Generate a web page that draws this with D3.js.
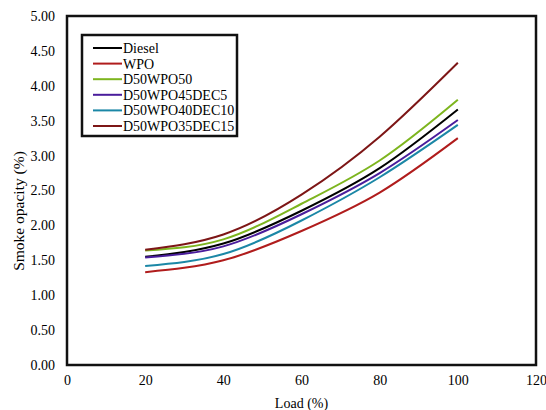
<!DOCTYPE html>
<html>
<head>
<meta charset="utf-8">
<script src="https://cdn.jsdelivr.net/npm/d3@7"></script>
<style>
body { margin: 0; background: #fff; }
svg { display: block; font-family: "Liberation Serif", "Times New Roman", serif; }
.axis path { stroke: none; }
.axis text { font-size: 14px; fill: #000; font-family: "Liberation Serif", serif; }
</style>
</head>
<body>
<div id="chart"></div>
<script>
// load points and measured smoke opacity
var loads = [20, 40, 60, 80, 100];
var diesel = [1.55, 1.74, 2.21, 2.82, 3.66];
var wpo = [1.33, 1.50, 1.92, 2.47, 3.25];
var d50wpo50 = [1.64, 1.80, 2.31, 2.93, 3.80];
var d50wpo45dec5 = [1.54, 1.70, 2.16, 2.75, 3.51];
var d50wpo40dec10 = [1.42, 1.59, 2.07, 2.69, 3.44];
var d50wpo35dec15 = [1.65, 1.87, 2.44, 3.27, 4.33];

var seriesNames = ["Diesel", "WPO", "D50WPO50", "D50WPO45DEC5", "D50WPO40DEC10", "D50WPO35DEC15"];
var seriesValues = [diesel, wpo, d50wpo50, d50wpo45dec5, d50wpo40dec10, d50wpo35dec15];
var colors = ["#000000", "#b01c1c", "#7db51e", "#4a1d9c", "#1b87a6", "#7d1616"];

var xTicks = [0, 20, 40, 60, 80, 100, 120];
var yTicks = [0, 0.5, 1, 1.5, 2, 2.5, 3, 3.5, 4, 4.5, 5];

var W = 546, H = 410;
var margin = {top: 16, right: 10, bottom: 45, left: 67};
var graph_w = W - margin.left - margin.right;
var graph_h = H - margin.top - margin.bottom;

var svg = d3.select("#chart").append("svg")
	.attr("width", W)
	.attr("height", H);

var g = svg.append("g")
	.attr("transform", "translate(" + margin.left + "," + margin.top + ")");

var x = d3.scaleLinear().domain([0, 120]).range([0, graph_w]);
var y = d3.scaleLinear().domain([0, 5]).range([graph_h, 0]);

g.append("g")
	.attr("class", "x axis")
	.attr("transform", "translate(0," + graph_h + ")")
	.call(d3.axisBottom(x).tickValues(xTicks).tickSize(0).tickPadding(10).tickFormat(d3.format("d")));

g.append("g")
	.attr("class", "y axis")
	.call(d3.axisLeft(y).tickValues(yTicks).tickSize(0).tickPadding(12).tickFormat(d3.format(".2f")));

// plot frame
g.append("rect")
	.attr("x", 0)
	.attr("y", 0)
	.attr("width", graph_w)
	.attr("height", graph_h)
	.attr("fill", "none")
	.attr("stroke", "#111")
	.attr("stroke-width", 2.5);

var line = d3.line()
	.x(function(d, i) { return x(loads[i]); })
	.y(function(d) { return y(d); })
	.curve(d3.curveNatural);

seriesValues.forEach(function(vals, k) {
	g.append("path")
		.datum(vals)
		.attr("fill", "none")
		.attr("stroke", colors[k])
		.attr("stroke-width", 2)
		.attr("d", line);
});

// legend
var leg = svg.append("g").attr("transform", "translate(82,35)");
leg.append("rect")
	.attr("width", 155)
	.attr("height", 101)
	.attr("fill", "#fff")
	.attr("stroke", "#111")
	.attr("stroke-width", 2.5);
seriesNames.forEach(function(name, k) {
	var yy = 13 + k * 15.6;
	leg.append("line")
		.attr("x1", 11).attr("x2", 40)
		.attr("y1", yy).attr("y2", yy)
		.attr("stroke", colors[k])
		.attr("stroke-width", 2);
	leg.append("text")
		.attr("x", 41)
		.attr("y", yy)
		.attr("dy", "0.35em")
		.attr("font-size", 14)
		.text(name);
});

// axis titles
svg.append("text")
	.attr("x", margin.left + graph_w / 2)
	.attr("y", 408)
	.attr("text-anchor", "middle")
	.attr("font-size", 14)
	.text("Load (%)");

svg.append("text")
	.attr("transform", "translate(24,211) rotate(-90)")
	.attr("text-anchor", "middle")
	.attr("font-size", 15.5)
	.text("Smoke opacity (%)");
</script>
</body>
</html>
